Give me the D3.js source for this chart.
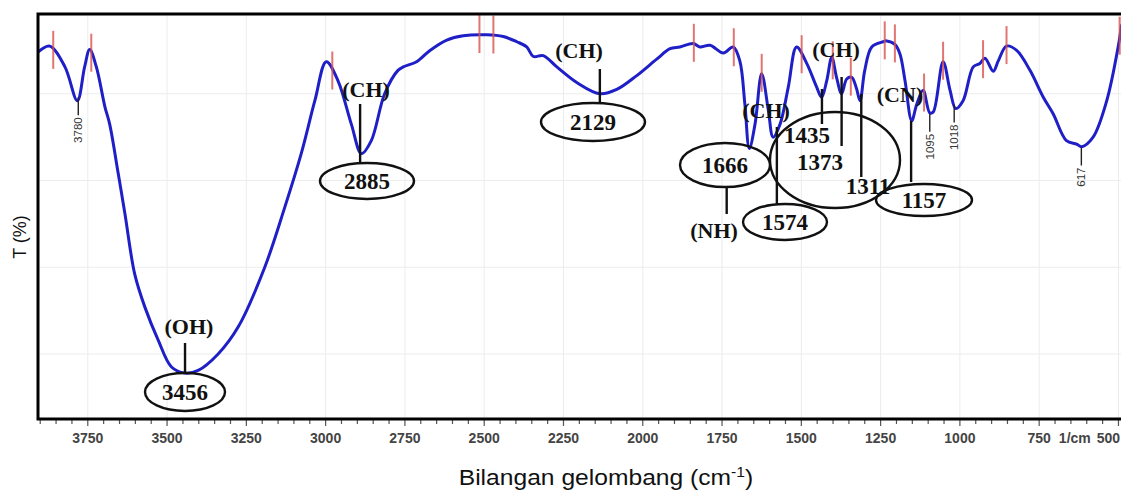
<!DOCTYPE html>
<html>
<head>
<meta charset="utf-8">
<script src="https://cdn.jsdelivr.net/npm/d3@7"></script>
<style>
  body { margin: 0; background: #fff; }
  svg { display: block; }
  .tick-label { font-family: "Liberation Sans Narrow", "Liberation Sans", Arial, sans-serif; font-weight: bold; font-size: 14px; fill: #444; }
  .band { font-family: "Liberation Serif", "Times New Roman", serif; font-weight: bold; fill: #111; }
  .small { font-family: "Liberation Sans", Arial, sans-serif; font-size: 11.5px; fill: #333; }
</style>
</head>
<body>
<svg width="1121" height="491"></svg>
<script>
// spectrum: wavenumber (1/cm) and transmittance (%)
const wavenumber = [3907, 3870, 3822, 3783, 3760, 3744, 3723, 3696, 3681, 3654, 3633, 3602, 3570, 3528, 3486, 3444, 3402, 3339, 3276, 3192, 3129, 3077, 3034, 2998, 2961, 2919, 2887, 2856, 2814, 2772,
  2755, 2713, 2671, 2618, 2566, 2492, 2440, 2397, 2366, 2345, 2314, 2271, 2208, 2135, 2082, 2019, 1956, 1914, 1883,
  1841, 1820, 1788, 1746, 1715, 1694, 1678, 1664, 1646, 1625, 1604, 1589, 1567, 1541, 1515, 1483, 1452, 1436, 1420, 1404, 1389, 1373, 1357, 1341, 1326, 1315, 1300, 1278, 1242,
  1231, 1205, 1189, 1173, 1152, 1136, 1116, 1095, 1084, 1053, 1031, 1013, 990, 958, 937, 921, 895, 879, 853, 821, 779, 737, 706, 664, 632, 616, 580, 537, 501, 490];
const transmittance = [44.8, 45.5, 43.1, 39.2, 43.1, 45.1, 43.1, 38.5, 36.5, 30.8, 26.2, 19.2, 15.4, 11.6, 8.5, 7.8, 8.1, 10.0, 13.1, 20.0, 26.9, 33.1, 39.2, 43.7, 41.5, 36.5, 33.1, 34.6, 40.0, 42.7,
  43.1, 43.7, 45.0, 46.2, 46.7, 46.8, 46.6, 46.0, 45.4, 44.3, 44.4, 43.1, 41.3, 40.0, 40.5, 42.1, 44.0, 45.2, 45.4,
  45.8, 45.4, 45.6, 44.7, 45.4, 43.8, 38.8, 33.7, 36.5, 42.3, 38.1, 35.0, 36.5, 40.8, 45.4, 43.5, 40.8, 39.6, 41.5, 44.2, 41.9, 40.0, 41.7, 41.9, 40.6, 39.2, 42.7, 45.4, 46.0,
  46.1, 45.7, 44.6, 41.5, 36.9, 38.8, 40.4, 37.8, 37.9, 43.7, 40.4, 38.3, 39.2, 43.1, 43.5, 44.1, 42.6, 43.8, 45.5, 45.0, 42.7, 39.6, 37.7, 34.6, 34.2, 33.9, 35.0, 39.2, 45.4, 48.0];

// red peak markers
const peakMarks = [3859, 3739, 2979, 2515, 2471, 1839, 1713, 1625, 1499, 1401, 1344, 1237, 1205, 1113, 1053, 927, 853, 496];

// small rotated band labels
const minorBands = [3780, 1095, 1018, 617];

// circled band labels with their group names
const circledBands = [3456, 2885, 2129, 1666, 1574, 1157];
const groupNames = ['(OH)', '(CH)', '(CH)', '(NH)', '(CH)', '(CN)'];
const clusterBands = [1435, 1373, 1311];
const clusterName = '(CH)';

const xTicks = [3750, 3500, 3250, 3000, 2750, 2500, 2250, 2000, 1750, 1500, 1250, 1000, 750, 500];
const yGrid = [10, 20, 30, 40];

const margin = { top: 14, right: 0, bottom: 72, left: 38 };
const W = 1121, H = 491;

const svg = d3.select('svg');

const x = d3.scaleLinear().domain([3907, 492]).range([margin.left, W - margin.right]);
const y = d3.scaleLinear().domain([2.5, 49.2]).range([H - margin.bottom, margin.top]);
const tAt = d3.scaleLinear().domain(wavenumber).range(transmittance);

const plot = svg.append('g');

// grid
plot.selectAll('.vgrid')
  .data(xTicks.filter(d => d < 3900))
  .enter().append('line')
  .attr('x1', d => x(d)).attr('x2', d => x(d))
  .attr('y1', margin.top).attr('y2', H - margin.bottom)
  .attr('stroke', '#ececec').attr('stroke-width', 1);
plot.selectAll('.hgrid')
  .data(yGrid)
  .enter().append('line')
  .attr('x1', margin.left).attr('x2', W)
  .attr('y1', d => y(d)).attr('y2', d => y(d))
  .attr('stroke', '#ececec').attr('stroke-width', 1);

// x axis with minor ticks
const minor = d3.range(3900, 490, -50);
const axisY = H - margin.bottom;
svg.append('g')
  .selectAll('line')
  .data(minor)
  .enter().append('line')
  .attr('x1', d => x(d)).attr('x2', d => x(d))
  .attr('y1', axisY).attr('y2', d => (d % 250 === 0 ? axisY + 7 : axisY + 5))
  .attr('stroke', '#555').attr('stroke-width', 1.2);

svg.append('g')
  .selectAll('text')
  .data(xTicks)
  .enter().append('text')
  .attr('class', 'tick-label')
  .attr('x', d => (d === 500 ? W - 1 : x(d)))
  .attr('y', axisY + 24)
  .attr('text-anchor', d => (d === 500 ? 'end' : 'middle'))
  .text(d => d);

svg.append('text')
  .attr('class', 'tick-label')
  .attr('x', (x(750) + x(500)) / 2 - 4)
  .attr('y', axisY + 24)
  .attr('text-anchor', 'middle')
  .text('1/cm');

// spectrum
const line = d3.line()
  .x((d, i) => x(wavenumber[i]))
  .y((d, i) => y(transmittance[i]))
  .curve(d3.curveCatmullRom.alpha(0.5));

plot.append('path')
  .datum(wavenumber)
  .attr('d', line)
  .attr('fill', 'none')
  .attr('stroke', '#1f1fc8')
  .attr('stroke-width', 3)
  .attr('stroke-linejoin', 'round');

// peak markers
plot.selectAll('.mark')
  .data(peakMarks)
  .enter().append('line')
  .attr('x1', d => x(d)).attr('x2', d => x(d))
  .attr('y1', d => y(tAt(d)) - 20)
  .attr('y2', d => y(tAt(d)) + 18)
  .attr('stroke', '#d9534f')
  .attr('stroke-opacity', 0.8)
  .attr('stroke-width', 2);

// frame
svg.append('path')
  .attr('d', `M${W + 2},${margin.top}H${margin.left}V${axisY}H${W + 2}`)
  .attr('fill', 'none')
  .attr('stroke', '#000')
  .attr('stroke-width', 3);

// small rotated labels
const small = svg.append('g');
minorBands.forEach(b => {
  const px = x(b), py = y(tAt(b));
  small.append('line')
    .attr('x1', px).attr('x2', px)
    .attr('y1', py + 1).attr('y2', py + 19)
    .attr('stroke', '#222').attr('stroke-width', 1.4);
  small.append('text')
    .attr('class', 'small')
    .attr('transform', `translate(${px + 4},${py + 21}) rotate(-90)`)
    .attr('text-anchor', 'end')
    .text(b);
});

// circled annotations (layout offsets in pixels)
const ann = svg.append('g');
const layout = {
  3456: { name: [189, 334], lead: [4, 343, 372], ell: [185, 392, 40, 19] },
  2885: { name: [366, 97], lead: [-2, 104, 162], ell: [367, 181, 47, 18] },
  2129: { name: [579, 58], lead: [-2, 69, 104], ell: [593, 122, 52, 19] },
  1666: { name: [714, 238], lead: [-22, 187, 214], ell: [725, 165, 45, 22] },
  1574: { name: [766, 118], lead: [-1, 127, 205], ell: [785, 222, 42, 18] },
  1157: { name: [900, 102], lead: [1, 121, 182], ell: [924, 200, 48, 16] }
};
const bandFont = 23, nameFont = 22;

circledBands.forEach((b, i) => {
  const L = layout[b];
  ann.append('line')
    .attr('x1', x(b) + L.lead[0]).attr('x2', x(b) + L.lead[0])
    .attr('y1', L.lead[1]).attr('y2', L.lead[2])
    .attr('stroke', '#111').attr('stroke-width', 2.4);
  ann.append('ellipse')
    .attr('cx', L.ell[0]).attr('cy', L.ell[1])
    .attr('rx', L.ell[2]).attr('ry', L.ell[3])
    .attr('fill', 'none').attr('stroke', '#111').attr('stroke-width', 2.4);
  ann.append('text')
    .attr('class', 'band')
    .attr('x', L.ell[0]).attr('y', L.ell[1] + 8)
    .attr('text-anchor', 'middle')
    .style('font-size', bandFont + 'px')
    .text(b);
  ann.append('text')
    .attr('class', 'band')
    .attr('x', L.name[0]).attr('y', L.name[1])
    .attr('text-anchor', 'middle')
    .style('font-size', nameFont + 'px')
    .text(groupNames[i]);
});

// cluster of three CH bands in one big ellipse
const clusterLead = { 1435: [89, 124, 807, 143], 1373: [77, 146, 820, 170], 1311: [94, 177, 868, 194] };
ann.append('ellipse')
  .attr('cx', 835).attr('cy', 160).attr('rx', 65).attr('ry', 48)
  .attr('fill', 'none').attr('stroke', '#111').attr('stroke-width', 2.4);
clusterBands.forEach(b => {
  const c = clusterLead[b];
  ann.append('line')
    .attr('x1', x(b)).attr('x2', x(b))
    .attr('y1', c[0]).attr('y2', c[1])
    .attr('stroke', '#111').attr('stroke-width', 2.4);
  ann.append('text')
    .attr('class', 'band')
    .attr('x', c[2]).attr('y', c[3])
    .attr('text-anchor', 'middle')
    .style('font-size', bandFont + 'px')
    .text(b);
});
ann.append('text')
  .attr('class', 'band')
  .attr('x', 836).attr('y', 57)
  .attr('text-anchor', 'middle')
  .style('font-size', nameFont + 'px')
  .text(clusterName);

// axis titles
const xt = svg.append('text')
  .attr('transform', 'translate(606,485) scale(1.12,1)')
  .attr('text-anchor', 'middle')
  .style('font-family', '"Liberation Sans", Arial, sans-serif')
  .style('font-size', '22px')
  .style('fill', '#111');
xt.append('tspan').text('Bilangan gelombang (cm');
xt.append('tspan').attr('dy', -8).style('font-size', '14px').text('-1');
xt.append('tspan').attr('dy', 8).text(')');

svg.append('text')
  .attr('transform', 'translate(26,237) rotate(-90)')
  .attr('text-anchor', 'middle')
  .style('font-family', '"Liberation Sans", Arial, sans-serif')
  .style('font-size', '18px')
  .style('fill', '#111')
  .text('T (%)');
</script>
</body>
</html>
